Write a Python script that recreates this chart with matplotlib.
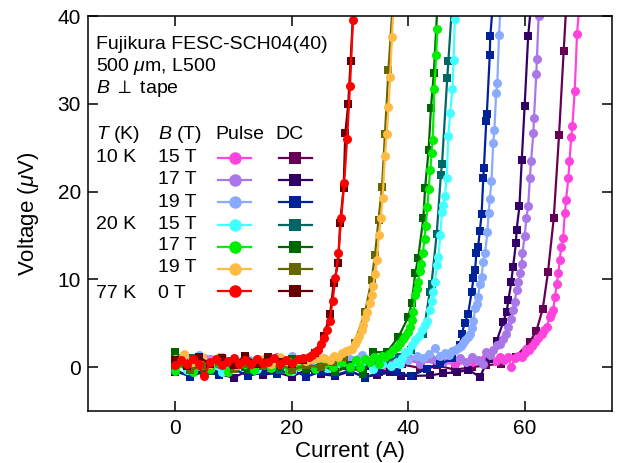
import matplotlib
matplotlib.use('Agg')
import matplotlib.pyplot as plt
from matplotlib.lines import Line2D

plt.rcParams['font.family'] = ['Liberation Sans', 'DejaVu Sans']
plt.rcParams['mathtext.fontset'] = 'custom'
plt.rcParams['mathtext.rm'] = 'Liberation Sans'
plt.rcParams['mathtext.it'] = 'Liberation Sans:italic'

# ---- data ----
# 10 K, 15 T
pink_I = [0, 3, 6, 9, 12, 15, 18, 21, 24, 27, 30, 33, 36, 39, 42, 45, 48, 51, 53, 55,
          55.7, 56.5, 57.2, 57.7, 58.3, 58.9, 59.5, 60.0, 60.3, 60.8, 61.2, 61.7, 62.3,
          62.9, 63.4, 63.8, 64.3, 64.6, 64.9, 65.2, 65.5, 65.8, 66.0, 66.3, 66.6, 66.9,
          67.1, 67.5, 67.7, 68.0, 68.2, 68.6, 69.0, 69.3]
pink_V = [0.6, 0.2, 0.9, 0.4, 0.7, 0.1, 0.8, 0.5, 0.3, 0.9, 0.4, 0.6, 0.2, 0.8, 0.5, 0.7,
          0.3, 0.6, 0.9, 0.7, 1.1, 0.8, 1.2, 0.0, 1.0, 1.3, 1.1, 1.6, 2.1, 2.0, 2.4, 2.9,
          3.3, 3.8, 4.2, 4.6, 5.7, 6.0, 6.5, 8.0, 9.5, 10.7, 12.2, 13.7, 14.7, 17.5,
          19.0, 21.5, 23.5, 26.2, 27.5, 31.5, 38.0, 40.5]
magenta_I = [0, 3, 6, 9, 12, 15, 18, 21, 24, 27, 30, 33, 36, 39, 42, 45, 48, 51, 53.4,
             56, 58.5, 60.9, 62.0, 63.1, 64.0, 65.0, 65.9, 66.7, 67.3]
magenta_V = [0.3, -0.4, 0.1, -0.2, 0.4, -0.5, 0.0, 0.3, -0.3, 0.2, -0.4, 0.1, -0.2, 0.3,
             -0.1, 0.2, -0.3, 0.0, 0.2, 0.4, 1.2, 2.9, 4.1, 6.6, 10.8, 17.0, 26.4, 36, 43]

# 10 K, 17 T
lav_I = [0, 2.5, 5, 7.5, 10, 12.5, 15, 17.5, 20, 22.5, 25, 27.5, 30, 32.5, 35, 37.5, 40,
         42, 44, 46, 47.5, 48.9, 50.0, 51.0, 52.0, 52.9, 53.4, 54.0, 54.6, 55.2, 55.8,
         56.3, 56.8, 57.2, 57.7, 58.0, 58.3, 58.6, 58.9, 59.2, 59.5, 59.6, 60.0, 60.3,
         60.6, 60.9, 61.1, 61.5, 61.6, 62.0, 62.1, 62.4]
lav_V = [0.8, 0.3, 1.0, 0.5, 0.9, 0.2, 0.7, 1.1, 0.4, 0.8, 0.6, 1.0, 0.3, 0.9, 0.5, 0.7,
         1.1, 0.4, 0.9, 0.6, 1.0, 1.0, 0.6, 1.2, 0.8, 0.4, 1.7, 1.4, 2.0, 2.5, 2.6, 3.2,
         3.8, 4.6, 5.5, 6.5, 7.4, 8.8, 9.7, 10.7, 11.8, 13.0, 14.9, 17.0, 18.3, 21.6,
         23.5, 26.7, 28.4, 33.4, 35.1, 40]
purple_I = [0, 2.5, 5, 7.5, 10, 12.5, 15, 17.5, 20, 22.5, 25, 27.5, 30, 32.5, 34.6, 36.9,
            38.8, 40.9, 43.7, 46.0, 48.3, 50.3, 52.3, 53.8, 55.2, 56.3, 56.9, 57.2, 57.7,
            58.0, 58.5, 58.6, 59.1, 59.5, 60.0, 60.6, 61.2]
purple_V = [-0.5, -1.0, -0.3, -0.8, -1.2, -0.4, -0.9, -0.6, -1.1, -0.3, -0.8, -1.0, -0.5,
            -1.1, -0.9, -0.6, -1.0, -1.0, -0.95, -0.7, -0.6, -0.3, -1.1, 0.9, 3.0, 5.1,
            6.3, 7.6, 9.7, 11.4, 14.1, 15.6, 18.3, 23.6, 29.8, 37.7, 42]

# 10 K, 19 T
lblue_I = [0, 2, 4, 6, 8, 10, 12, 14, 16, 18, 20, 22, 24, 26, 28, 30, 32, 34, 36, 38, 40,
           41.5, 42.5, 43.5, 44.6, 45.5, 46.3, 47.0, 47.6, 48.0, 48.6, 49.0, 49.4, 49.8,
           50.2, 50.6, 50.9, 51.2, 51.5, 51.8, 52.0, 52.3, 52.6, 52.9, 53.2, 53.6, 53.8,
           54.0, 54.3, 54.6, 54.8, 55.1, 55.3, 55.6, 55.8]
lblue_V = [1.2, 0.6, 1.4, 0.8, 1.1, 0.5, 1.3, 0.9, 1.0, 0.7, 1.3, 0.8, 1.1, 0.6, 1.2, 0.9,
           1.4, 0.7, 1.0, 1.2, 0.8, 1.3, 1.0, 1.5, 2.2, 1.3, 1.6, 1.4, 1.8, 1.9, 2.2, 2.4,
           2.7, 3.1, 3.4, 3.8, 4.5, 5.3, 6.7, 7.2, 8.0, 9.5, 10.3, 12.0, 13.0, 15.4, 17.5,
           19.1, 21.2, 25.5, 27.0, 31.2, 32.4, 37.8, 40.5]
navy_I = [0, 2.5, 5, 7.5, 10, 12.5, 15, 17.5, 20, 22.5, 25, 27.5, 30, 32.5, 35, 38, 40.5,
          43.2, 45.5, 47.5, 48.9, 49.2, 49.7, 50.3, 50.9, 51.2, 51.5, 51.7, 52.0, 52.3,
          52.6, 52.9, 53.0, 53.4, 53.5, 54.0, 54.1, 54.6]
navy_V = [-0.3, -1.1, -0.5, -0.9, -0.2, -1.0, -0.6, -0.8, -0.3, -1.1, -0.5, -0.9, -0.4,
          -1.2, -0.6, -0.6, -1.0, -0.2, 0.3, 1.0, 2.5, 3.8, 5.0, 6.1, 8.6, 10.1, 11.1,
          13.0, 13.7, 15.5, 17.4, 21.6, 22.7, 28.0, 28.8, 35.5, 37.7, 42]

# 20 K, 15 T
cyan_I = [0, 2, 4, 6, 8, 10, 12, 14, 16, 18, 20, 22, 24, 26, 28, 30, 32, 34, 35.5, 37,
          38.0, 38.6, 39.0, 39.5, 40.0, 40.6, 41.2, 41.8, 42.3, 42.8, 43.2, 43.7, 44.0,
          44.3, 44.6, 44.9, 45.2, 45.5, 45.8, 46.0, 46.3, 46.6, 46.9, 47.2, 47.6, 47.8, 48.0]
cyan_V = [0.5, -0.3, 0.7, 0.1, -0.5, 0.4, 0.9, -0.2, 0.3, 0.6, -0.4, 0.2, 0.8, -0.1, 0.5,
          0.1, 0.6, -0.2, 0.3, 0.1, 0.6, 0.4, 1.0, 1.7, 1.8, 2.5, 3.1, 3.6, 4.2, 4.8, 5.3,
          6.5, 7.5, 8.6, 9.7, 11.6, 12.6, 15.0, 17.7, 18.5, 19.5, 21.5, 26.3, 29.0, 31.7,
          35.0, 39.7]
teal_I = [0, 3, 6, 9, 12, 15, 18, 21, 24, 27, 30, 33, 36, 38.5, 40.5, 42.6, 43.7, 44.0,
          44.9, 45.6, 45.8, 46.7, 46.9, 47.5]
teal_V = [0.2, 1.0, -0.4, 0.5, 0.0, 0.8, -0.3, 0.4, 1.2, 0.2, -0.2, 0.5, 0.6, 1.2, 2.0,
          3.8, 8.6, 9.5, 15.2, 21.9, 23.1, 32.9, 34.9, 41]

# 20 K, 17 T
green_I = [0, 1.5, 3, 4.5, 6, 7.5, 9, 10.5, 12, 13.5, 15, 16.5, 18, 19.5, 21, 22.5, 24,
           25.5, 27, 28.5, 30, 31, 31.7, 32.5, 33.4, 34.2, 34.9, 35.5, 36.0, 36.7, 37.4,
           38.0, 38.6, 39.1, 39.5, 39.9, 40.3, 40.6, 40.9, 41.2, 41.5, 41.7, 42.0, 42.2,
           42.5, 42.8, 43.0, 43.3, 43.5, 43.8, 44.0, 44.2, 44.5, 44.8, 45.0]
green_V = [-0.4, 0.3, -0.6, 0.2, -0.2, 0.5, -0.5, 0.1, 0.4, -0.3, 0.2, -0.1, 0.3, -0.4,
           0.1, 0.5, -0.2, 0.3, 0.0, 0.6, 0.0, 0.8, 0.0, 0.9, 0.6, 1.1, 0.4, 1.3, 1.1, 1.5,
           1.9, 2.3, 2.7, 3.2, 3.6, 4.0, 4.6, 5.4, 6.3, 8.2, 8.9, 9.7, 10.9, 11.8, 13.0,
           14.6, 16.1, 18.2, 20.3, 22.5, 24.4, 25.9, 31.7, 35.5, 38.5]
dgreen_I = [0, 2.5, 5, 7.5, 10, 12.5, 15, 17.5, 20, 22.5, 25, 27.5, 30, 32.3, 34.0, 36.3,
            38.3, 40.0, 40.6, 41.2, 41.7, 42.6, 42.9, 43.5, 43.9, 44.4, 45.0]
dgreen_V = [1.7, 0.3, -0.5, 0.8, 0.1, -0.3, 0.6, 0.0, 0.9, -0.2, 0.4, -0.6, 0.2, -0.8, 1.7,
            1.7, 3.4, 5.7, 7.3, 10.7, 12.4, 17.0, 20.4, 24.7, 29.5, 33.5, 41]

# 20 K, 19 T
orange_I = [0, 1.5, 3, 4.5, 6, 7.5, 9, 10.5, 12, 13.5, 15, 16.5, 18, 19.5, 21, 22.5, 23.5,
            24.5, 25.5, 26.5, 27.3, 28, 28.7, 29.3, 29.8, 30.3, 30.8, 31.2, 31.6, 32.0,
            32.3, 32.6, 33.0, 33.4, 33.7, 34.0, 34.3, 34.6, 35.0, 35.3, 35.6, 36.0, 36.3,
            36.6, 36.9, 37.2, 37.5]
orange_V = [0.9, 1.5, 0.6, 1.2, 0.3, 1.1, 0.7, 0.2, 1.0, 0.5, 0.9, 0.4, 1.1, 0.6, 0.8, 0.7,
            0.9, 1.0, 1.0, 0.8, 1.3, 1.2, 1.6, 1.8, 2.0, 2.1, 2.6, 3.1, 3.5, 4.2, 4.8, 5.6,
            6.3, 7.3, 8.2, 9.2, 10.6, 12.2, 15.1, 17.0, 19.3, 24.0, 26.5, 29.6, 33.0, 37.6, 41]
olive_I = [0, 2.5, 5, 7.5, 10, 12.5, 15, 17.5, 20, 22.5, 25, 27, 29, 30.8, 32.6, 33.7,
           34.3, 34.9, 35.5, 36.0, 36.6, 37.3]
olive_V = [0.4, -0.3, 0.2, 0.6, -0.2, 0.3, 0.1, 0.5, -0.3, 0.2, 0.0, 0.6, 1.2, 2.8, 6.3,
           9.9, 12.8, 16.8, 20.5, 26.5, 33.8, 41]

# 77 K, 0 T
red_I = [0, 1, 2, 3, 4, 5, 6, 7, 8, 9, 10, 11, 12, 13, 14, 15, 16, 17, 18, 19, 20, 21, 22,
         23, 23.5, 24, 24.5, 25, 25.5, 26, 26.5, 27, 27.5, 28, 28.5, 29, 29.5, 30, 30.5]
red_V = [0.2, 0.8, 0.4, 0.9, 0.3, -1.0, 0.6, 0.9, 0.2, 0.7, 1.0, 0.4, 0.8, 0.3, 0.9, 0.5,
         0.6, 1.0, 0.4, 0.8, 0.5, 0.9, 1.0, 1.2, 1.4, 1.7, 2.0, 2.6, 3.3, 4.2, 5.2, 7.5,
         10.2, 13.0, 17.0, 21.0, 26.0, 32.0, 39.5]
dred_I = [0, 2, 4, 6, 8, 10, 12, 14, 16, 18, 20, 22, 24, 25.5, 26.6, 27.2, 28.0, 28.3,
          28.9, 29.2, 29.7, 30.1, 30.6]
dred_V = [0.8, 0.1, 1.2, 0.3, 1.0, 0.2, 1.3, 0.4, 1.2, 0.6, 0.3, 0.8, 1.6, 3.5, 6.1, 9.6,
          11.9, 16.4, 20.4, 26.7, 30.0, 34.9, 41]

temps = ['10 K', '', '', '20 K', '', '', '77 K']
fields = ['15 T', '17 T', '19 T', '15 T', '17 T', '19 T', '0 T']
pulse_colors = ['#ff44dd', '#aa77e8', '#88aaff', '#44ffff', '#00ee00', '#ffbb44', '#ff0000']
dc_colors = ['#660055', '#330066', '#002299', '#006666', '#006600', '#666600', '#660000']
pulse_data = [(pink_I, pink_V), (lav_I, lav_V), (lblue_I, lblue_V), (cyan_I, cyan_V),
              (green_I, green_V), (orange_I, orange_V), (red_I, red_V)]
dc_data = [(magenta_I, magenta_V), (purple_I, purple_V), (navy_I, navy_V),
           (teal_I, teal_V), (dgreen_I, dgreen_V), (olive_I, olive_V), (dred_I, dred_V)]

fig = plt.figure(figsize=(6.21, 4.63), dpi=100)
ax = fig.add_axes([88 / 621, 52 / 463, 524 / 621, 395 / 463])

for (pi, pv), (di, dv), pc, dc in zip(pulse_data, dc_data, pulse_colors, dc_colors):
    ax.plot(di, dv, '-s', color=dc, lw=1.6, ms=6, mew=0)
    ax.plot(pi, pv, '-o', color=pc, lw=1.6, ms=6.5, mew=0)

ax.set_xlim(-15, 75)
ax.set_ylim(-5, 40)
ax.set_xticks([0, 20, 40, 60])
ax.set_yticks([0, 10, 20, 30, 40])
ax.tick_params(direction='in', top=True, right=True, length=7, width=1.1,
               labelsize=15)
ax.tick_params(axis='x', pad=6)
ax.tick_params(axis='y', pad=5)
for s in ax.spines.values():
    s.set_linewidth(1.1)
ax.set_xlabel('Current (A)', fontsize=16, labelpad=2)
ax.set_ylabel(r'Voltage ($\mu$V)', fontsize=16, labelpad=12)

# annotation block
ax.text(-13.7, 36.8, 'Fujikura FESC-SCH04(40)', fontsize=14, va='center')
ax.text(-13.7, 34.3, r'500 $\mu$m, L500', fontsize=14, va='center')
ax.text(-13.7, 31.7, r'$B$ $\perp$ tape', fontsize=14, va='center')
ax.text(-13.7, 26.5, r'$T$ (K)', fontsize=14, va='center')
ax.text(-2.9, 26.5, r'$B$ (T)', fontsize=14, va='center')
ax.text(6.9, 26.5, 'Pulse', fontsize=14, va='center')
ax.text(17.2, 26.5, 'DC', fontsize=14, va='center')
row_v = [23.9, 21.4, 18.8, 16.3, 13.8, 11.3, 8.4]
for t, b, v in zip(temps, fields, row_v):
    ax.text(-13.7, v, t, fontsize=14, va='center')
    ax.text(-2.9, v, b, fontsize=14, va='center')

handles = [Line2D([], [], color=c, marker='o', lw=1.6, ms=9, mew=0) for c in pulse_colors]
handles += [Line2D([], [], color=c, marker='s', lw=1.6, ms=8.5, mew=0) for c in dc_colors]
ax.legend(handles, [''] * 14, ncol=2, frameon=False, loc='upper left',
          bbox_to_anchor=(7.4, 24.6), bbox_transform=ax.transData,
          fontsize=14, handlelength=1.7, handletextpad=0, columnspacing=1.39,
          labelspacing=0.235, borderpad=0, borderaxespad=0)

fig.savefig('out.png', dpi=100)
